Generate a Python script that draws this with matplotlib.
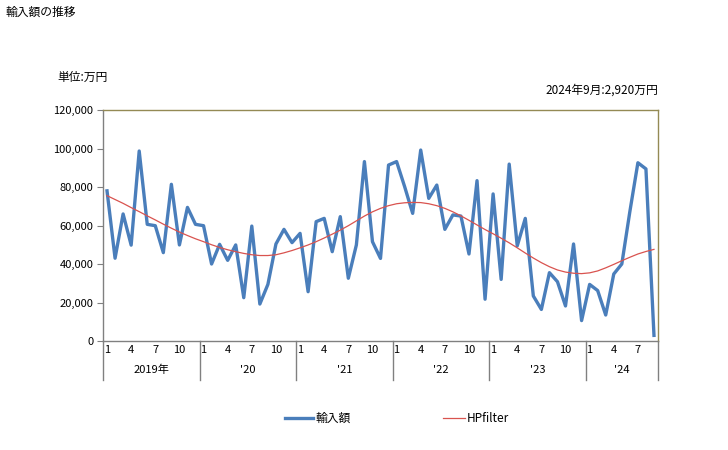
import matplotlib
matplotlib.use("Agg")
import matplotlib.pyplot as plt
from matplotlib.transforms import blended_transform_factory
from matplotlib.lines import Line2D

plt.rcParams['font.family'] = ['Noto Sans CJK JP', 'DejaVu Sans']

years = ['2019年', "'20", "'21", "'22", "'23", "'24"]
months_per_year = [12, 12, 12, 12, 12, 9]

imports = [
    78000, 43000, 66000, 49800, 98700, 60600, 59900, 45900, 81400, 49900, 69400, 60600,
    59900, 40000, 50200, 41900, 49900, 22500, 59700, 19200, 29400, 50400, 58000, 51100,
    55900, 25600, 62000, 63700, 46400, 64600, 32600, 49900, 93200, 51600, 42900, 91400,
    93200, 80200, 66300, 99200, 74100, 81000, 58000, 65500, 64900, 45200, 83300, 21700,
    76400, 32000, 91900, 49400, 63700, 23400, 16400, 35500, 30800, 18200, 50400, 10600,
    29400, 26200, 13500, 34800, 40000, 67200, 92600, 89400, 2920,
]

hp = [
    75500, 73500, 71500, 69300, 67200, 65000, 62900, 60700, 58600, 56600, 54800, 53100,
    51600, 50000, 48600, 47400, 46400, 45500, 44800, 44400, 44400, 44800, 45800, 47000,
    48400, 49900, 51600, 53500, 55500, 57600, 59900, 62400, 64900, 67100, 68900, 70300,
    71300, 71800, 72000, 71900, 71300, 70300, 68900, 67100, 65000, 62700, 60300, 57900,
    55700, 53400, 51000, 48400, 45700, 43100, 40700, 38600, 36900, 35800, 35200, 35000,
    35400, 36400, 38000, 39800, 41700, 43500, 45200, 46500, 47600,
]

month_labels = ['1', '4', '7', '10']

W, H = 728, 450
fig = plt.figure(figsize=(W/100, H/100), dpi=100)
ax = fig.add_axes([103/W, 1-341/H, (658-103)/W, (341-110)/H])

x = list(range(len(imports)))
ax.plot(x, imports, color='#4A7EBB', lw=2.4, solid_joinstyle='round', zorder=3)
ax.plot(x, hp, color='#D9534F', lw=0.9, zorder=4)

ax.set_xlim(-0.5, len(imports)-0.5)
ax.set_ylim(0, 120000)
ax.set_yticks(range(0, 120001, 20000))
ax.set_yticklabels([f'{v:,}' for v in range(0, 120001, 20000)], fontsize=8)
ax.tick_params(axis='y', length=4, width=0.8, color='#808080', pad=3)

# month ticks
xt, xl = [], []
start = 0
for n in months_per_year:
    for m in range(n):
        if str(m+1) in month_labels:
            xt.append(start + m)
            xl.append(str(m+1))
    start += n
ax.set_xticks(xt)
ax.set_xticklabels(xl, fontsize=8)
ax.tick_params(axis='x', length=0, pad=3)

for s in ['left', 'bottom']:
    ax.spines[s].set_color('#808080')
    ax.spines[s].set_linewidth(1.0)
for s in ['top', 'right']:
    ax.spines[s].set_color('#948A54')
    ax.spines[s].set_linewidth(1.0)

tr = blended_transform_factory(ax.transData, ax.transAxes)
start = 0
bounds = [-0.5]
for yl, n in zip(years, months_per_year):
    ax.text(start + n/2 - 0.5, -0.125, yl, transform=tr, ha='center', va='center', fontsize=8)
    start += n
    bounds.append(start - 0.5)
for b in bounds:
    ax.add_line(Line2D([b, b], [0, -0.17], transform=tr, color='#808080', lw=1.0, clip_on=False))

fig.text(5/W, 1-12/H, '輸入額の推移', fontsize=8.5, ha='left', va='center')
fig.text(57/W, 1-77/H, '単位:万円', fontsize=8.5, ha='left', va='center')
fig.text(658/W, 1-90/H, '2024年9月:2,920万円', fontsize=8.5, ha='right', va='center')

# legend
fig.add_artist(Line2D([285/W, 313/W], [1-418/H, 1-418/H], color='#4A7EBB', lw=2.4))
fig.text(316/W, 1-418/H, '輸入額', fontsize=8.5, ha='left', va='center')
fig.add_artist(Line2D([443/W, 465/W], [1-418/H, 1-418/H], color='#D9534F', lw=0.9))
fig.text(467/W, 1-418/H, 'HPfilter', fontsize=8.5, ha='left', va='center')

fig.savefig('out.png', dpi=100)
